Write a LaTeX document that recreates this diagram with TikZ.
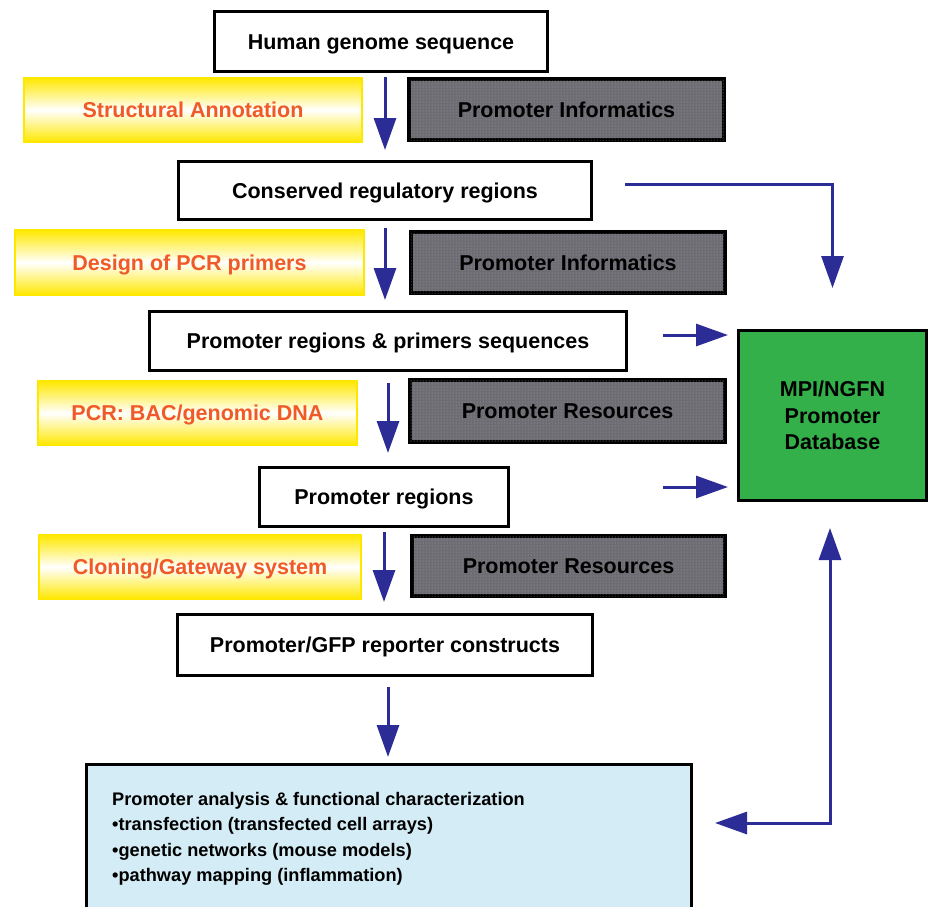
\documentclass[tikz,border=0pt]{standalone}
\usepackage{fontspec}
\setmainfont{Liberation Sans}
\usetikzlibrary{arrows.meta,patterns,calc}
\definecolor{arrblue}{RGB}{44,44,150}
\definecolor{txtorange}{RGB}{240,90,40}
\definecolor{ybright}{RGB}{255,232,0}
\definecolor{grayfill}{RGB}{108,108,114}
\definecolor{graydot}{RGB}{160,160,166}
\definecolor{dbgreen}{RGB}{52,176,74}
\definecolor{botblue}{RGB}{212,236,246}
\begin{document}
\begin{tikzpicture}[x=1pt,y=-1pt,
 bigfont/.style={font=\fontsize{21.5}{26.5}\selectfont\bfseries},
 capbox/.style={bigfont, text height=15.4pt, text depth=0pt, inner sep=0pt},
 whitebox/.style={capbox, draw=black, line width=3pt, fill=white},
 yellowbox/.style={capbox, draw=ybright, line width=2pt, top color=ybright, bottom color=ybright, middle color=white, text=txtorange},
 graybox/.style={capbox, draw=black, line width=3.5pt, fill=grayfill, postaction={pattern=dots, pattern color=graydot}},
 arr/.style={draw=arrblue, line width=3pt, -{Triangle[width=22pt,length=32pt]}},
 arrboth/.style={draw=arrblue, line width=3pt, {Triangle[width=22pt,length=32pt]}-{Triangle[width=22pt,length=32pt]}},
]
\useasboundingbox (0,0) rectangle (933,906);
\clip (0,0) rectangle (933,906);

% main column
\node[whitebox, minimum width=333pt, minimum height=60pt] (hgs) at (381,41.5) {Human genome sequence};
\node[whitebox, minimum width=413pt, minimum height=58pt] (crr) at (385,190.5) {Conserved regulatory regions};
\node[whitebox, minimum width=477pt, minimum height=59pt] (prp) at (388,341) {Promoter regions \& primers sequences};
\node[whitebox, minimum width=249pt, minimum height=59pt] (pr) at (384,497) {Promoter regions};
\node[whitebox, minimum width=415pt, minimum height=61pt] (gfp) at (385,645) {Promoter/GFP reporter constructs};

% yellow boxes
\node[yellowbox, minimum width=338pt, minimum height=64pt] (sa) at (193,110) {Structural Annotation};
\node[yellowbox, minimum width=349pt, minimum height=65pt] (dpp) at (189.5,262.5) {Design of PCR primers};
\node[yellowbox, minimum width=319pt, minimum height=64pt] (pcr) at (197.5,413) {PCR: BAC/genomic DNA};
\node[yellowbox, minimum width=322pt, minimum height=64pt] (clo) at (200,567) {Cloning/Gateway system};

% gray boxes
\node[graybox, minimum width=315pt, minimum height=61pt] (pi1) at (566.5,109.5) {Promoter Informatics};
\node[graybox, minimum width=314pt, minimum height=61pt] (pi2) at (568,262.5) {Promoter Informatics};
\node[graybox, minimum width=315pt, minimum height=62pt] (pr1) at (567.5,411) {Promoter Resources};
\node[graybox, minimum width=313pt, minimum height=60pt] (pr2) at (568.5,566) {Promoter Resources};

% database
\node[draw=black, line width=3pt, fill=dbgreen, minimum width=188pt, minimum height=170pt, align=center, bigfont] (db) at (832.5,415.5) {MPI/NGFN\\Promoter\\Database};

% bottom box
\node[draw=black, line width=3pt, fill=botblue, minimum width=605pt, minimum height=170pt, inner sep=0pt] (bot) at (389,849.5) {};
\node[anchor=north west, align=left, inner sep=0pt, font=\fontsize{18.2}{25.3}\selectfont\bfseries] (bottxt) at (112,792) {Promoter analysis \& functional characterization\\•transfection (transfected cell arrays)\\•genetic networks (mouse models)\\•pathway mapping (inflammation)};

% vertical arrows
\draw[arr, shorten <=4pt, shorten >=10pt] (hgs.south -| crr.north) -- (crr.north);
\draw[arr, shorten <=7pt, shorten >=10pt] (crr.south) -- (crr.south |- prp.north);
\draw[arr, shorten <=11pt, shorten >=13pt] (prp.south) -- (prp.south |- pr.north);
\draw[arr, shorten <=4pt, shorten >=11pt] (pr.south) -- (pr.south |- gfp.north);
\draw[arr, shorten <=10pt, shorten >=6pt] ([xshift=3pt]gfp.south) -- ([xshift=3pt]gfp.south |- bot.north);

% arrows to database
\draw[arr, shorten >=41pt] ([xshift=32pt,yshift=6.5pt]crr.east) -| (db.north);
\coordinate (in1) at (663,335);
\coordinate (in2) at (663,487);
\draw[arr, shorten >=9pt] (in1) -- (in1 -| db.west);
\draw[arr, shorten >=9pt] (in2) -- (in2 -| db.west);
\coordinate (c3) at (830,823);
\draw[arrboth, shorten <=22pt, shorten >=26pt] (c3 -| bot.east) -- (c3) -- (c3 |- db.south);
\end{tikzpicture}
\end{document}
